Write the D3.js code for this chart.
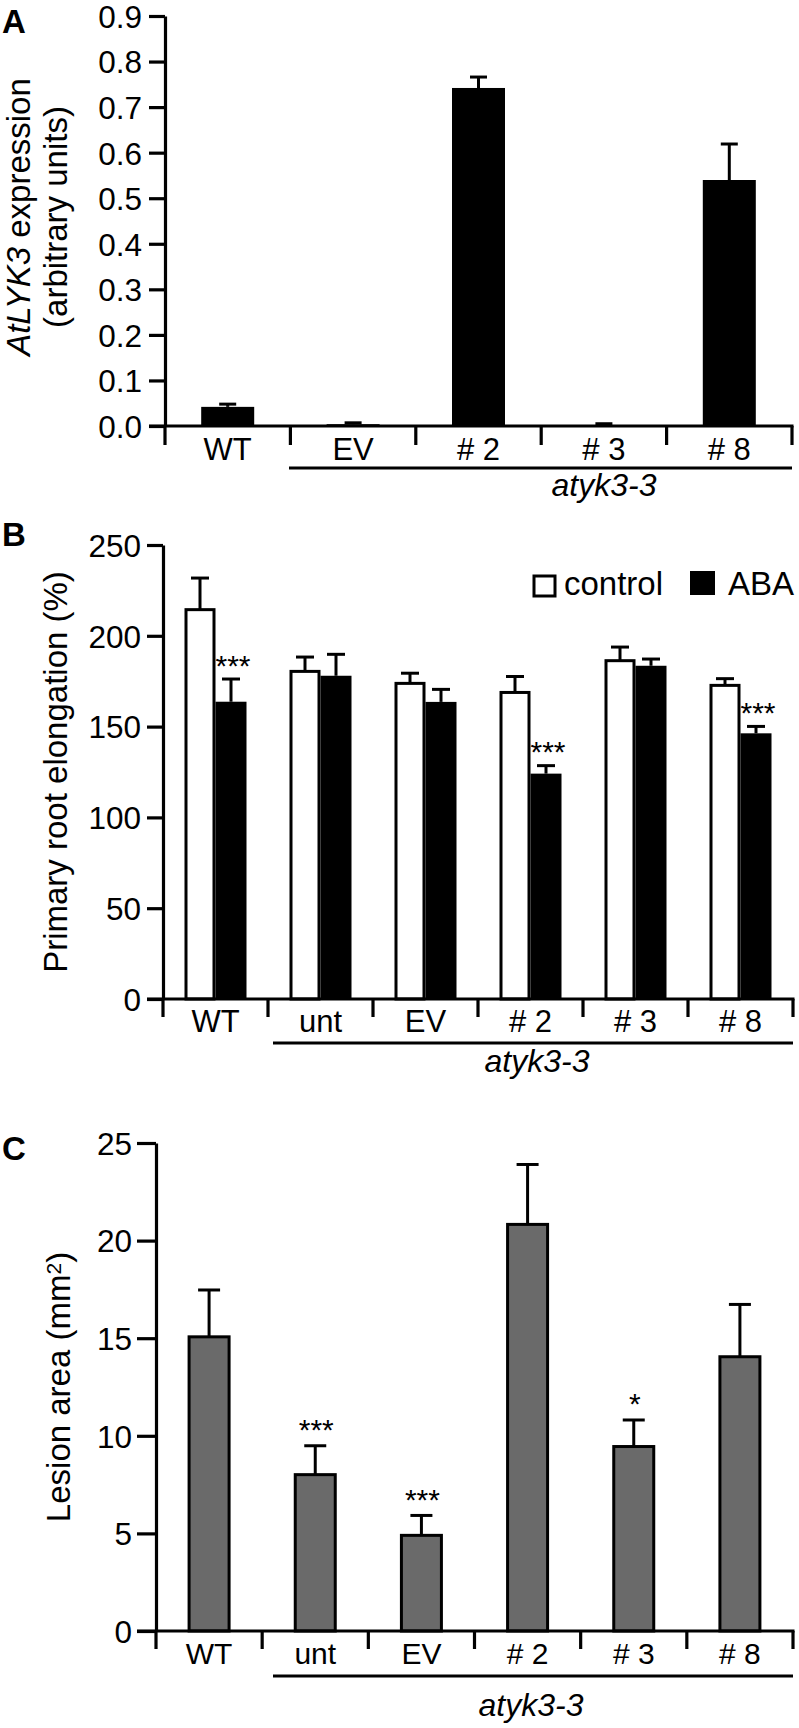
<!DOCTYPE html>
<html lang="en">
<head>
    <meta charset="UTF-8">
    <title>AtLYK3 expression, root elongation and lesion area</title>
    <script src="https://cdnjs.cloudflare.com/ajax/libs/d3/7.8.5/d3.min.js"></script>
    <style>
        body {
            margin: 0;
            padding: 0;
            background: #fff;
        }
        svg text {
            font-family: "Liberation Sans", Arial, Helvetica, sans-serif;
            fill: #000;
        }
        .axis path, .axis line {
            stroke: #000;
            stroke-width: 3.2px;
        }
        .axis text {
            font-size: 31.5px;
        }
    </style>
</head>
<body>
    <div id="chart"></div>

    <script>
        // ---- data ----
        // Panel A
        const catsA = ['WT', 'EV', '# 2', '# 3', '# 8'];
        const exprA = [0.042, 0.004, 0.742, 0.002, 0.540];
        const exprErrA = [0.006, 0.003, 0.024, 0.003, 0.079];
        const ticksA = [0, 0.1, 0.2, 0.3, 0.4, 0.5, 0.6, 0.7, 0.8, 0.9];

        // Panel B
        const catsB = ['WT', 'unt', 'EV', '# 2', '# 3', '# 8'];
        const controlB = [214.4, 180.4, 173.8, 168.8, 186.3, 172.7];
        const controlErrB = [17.4, 7.9, 5.6, 8.8, 7.5, 3.7];
        const abaB = [163.7, 178.0, 163.6, 124.1, 183.5, 146.3];
        const abaErrB = [12.5, 11.8, 6.9, 4.4, 3.7, 3.8];
        const starsB = ['***', '', '', '***', '', '***'];
        const seriesB = ['control', 'ABA'];
        const ticksB = [0, 50, 100, 150, 200, 250];

        // Panel C
        const catsC = ['WT', 'unt', 'EV', '# 2', '# 3', '# 8'];
        const lesionC = [15.07, 8.01, 4.90, 20.83, 9.45, 14.05];
        const lesionErrC = [2.40, 1.48, 1.02, 3.07, 1.36, 2.68];
        const starsC = ['', '***', '***', '', '*', ''];
        const ticksC = [0, 5, 10, 15, 20, 25];

        const groupLabel = 'atyk3-3';

        const width = 799;
        const height = 1728;

        const svg = d3.select('#chart')
            .append('svg')
            .attr('width', width)
            .attr('height', height);

        // shared pieces: y axis, x baseline, category boundaries, labels, bracket
        function drawFrame(g, cfg, x, y) {
            g.append('g')
                .attr('class', 'axis')
                .attr('transform', `translate(${cfg.axisX},0)`)
                .call(d3.axisLeft(y)
                    .tickValues(cfg.ticks)
                    .tickSize(cfg.axisX - cfg.tickLeft)
                    .tickSizeOuter(0)
                    .tickPadding(cfg.tickLeft - cfg.labelRight)
                    .tickFormat(cfg.format))
                .call(a => a.selectAll('text').attr('dy', '0.36em'));

            // x baseline
            g.append('line')
                .attr('x1', cfg.tickLeft).attr('x2', x.range()[1] + 1.5)
                .attr('y1', y(0)).attr('y2', y(0))
                .attr('stroke', '#000').attr('stroke-width', 3.2);

            // boundary ticks under the axis
            const bounds = x.domain().map(d => x(d)).concat([x.range()[1]]);
            g.selectAll('.bound')
                .data(bounds)
                .enter().append('line')
                .attr('x1', d => d).attr('x2', d => d)
                .attr('y1', y(0)).attr('y2', y(0) + cfg.tickDown)
                .attr('stroke', '#000').attr('stroke-width', 3.2);

            g.selectAll('.cat')
                .data(x.domain())
                .enter().append('text')
                .attr('x', d => x(d) + x.bandwidth() / 2)
                .attr('y', cfg.catY)
                .attr('text-anchor', 'middle')
                .style('font-size', cfg.catSize + 'px')
                .text(d => d);

            // mutant bracket
            g.append('line')
                .attr('x1', cfg.bracketX0).attr('x2', x.range()[1])
                .attr('y1', cfg.bracketY).attr('y2', cfg.bracketY)
                .attr('stroke', '#000').attr('stroke-width', 3);
            g.append('text')
                .attr('x', cfg.groupX).attr('y', cfg.groupY)
                .attr('text-anchor', 'middle')
                .style('font-size', '32px')
                .style('font-style', 'italic')
                .text(groupLabel);

            // panel letter
            g.append('text')
                .attr('x', 2).attr('y', cfg.letterY)
                .style('font-size', '33px')
                .style('font-weight', 'bold')
                .text(cfg.letter);
        }

        function errorBar(g, cx, yTop, yVal, capW) {
            g.append('line')
                .attr('x1', cx).attr('x2', cx)
                .attr('y1', yVal).attr('y2', yTop)
                .attr('stroke', '#000').attr('stroke-width', 3);
            g.append('line')
                .attr('x1', cx - capW / 2).attr('x2', cx + capW / 2)
                .attr('y1', yTop).attr('y2', yTop)
                .attr('stroke', '#000').attr('stroke-width', 3);
        }

        function stars(g, cx, yTop, s) {
            if (!s) return;
            g.append('text')
                .attr('x', cx + 2).attr('y', yTop + 4.5)
                .attr('text-anchor', 'middle')
                .style('font-size', '30px')
                .text(s);
        }

        // ---------- Panel A ----------
        (function () {
            const cfg = {
                letter: 'A', letterY: 33, axisX: 165, tickLeft: 149, labelRight: 142,
                ticks: ticksA, format: d3.format('.1f'), tickDown: 19,
                catY: 460, catSize: 31, bracketX0: 289, bracketY: 468,
                groupX: 604, groupY: 496
            };
            const g = svg.append('g');
            const x = d3.scaleBand().domain(catsA).range([165, 792]);
            const y = d3.scaleLinear().domain([0, 0.9]).range([426, 16]);
            const barW = 53;

            g.selectAll('.bar')
                .data(catsA)
                .enter().append('rect')
                .attr('x', d => x(d) + (x.bandwidth() - barW) / 2)
                .attr('width', barW)
                .attr('y', (d, i) => y(exprA[i]))
                .attr('height', (d, i) => y(0) - y(exprA[i]))
                .attr('fill', '#000');

            catsA.forEach((c, i) => {
                const cx = x(c) + x.bandwidth() / 2;
                errorBar(g, cx, y(exprA[i] + exprErrA[i]), y(exprA[i]), 17);
            });

            drawFrame(g, cfg, x, y);

            const t = g.append('text')
                .attr('transform', 'translate(30,217) rotate(-90)')
                .attr('text-anchor', 'middle')
                .style('font-size', '33px');
            t.append('tspan').style('font-style', 'italic').text('AtLYK3');
            t.append('tspan').text(' expression');
            g.append('text')
                .attr('transform', 'translate(67,217) rotate(-90)')
                .attr('text-anchor', 'middle')
                .style('font-size', '33px')
                .text('(arbitrary units)');
        })();

        // ---------- Panel B ----------
        (function () {
            const cfg = {
                letter: 'B', letterY: 546, axisX: 163, tickLeft: 147, labelRight: 141,
                ticks: ticksB, format: d3.format('d'), tickDown: 18,
                catY: 1032, catSize: 31, bracketX0: 273, bracketY: 1043,
                groupX: 537, groupY: 1072
            };
            const g = svg.append('g');
            const x = d3.scaleBand().domain(catsB).range([163, 793]);
            const y = d3.scaleLinear().domain([0, 250]).range([999, 545]);
            const pairW = 62;
            const xs = d3.scaleBand().domain(seriesB)
                .range([(x.bandwidth() - pairW) / 2, (x.bandwidth() + pairW) / 2]);

            const vals = { control: controlB, ABA: abaB };
            const errs = { control: controlErrB, ABA: abaErrB };

            seriesB.forEach(s => {
                g.selectAll('.bar-' + s)
                    .data(catsB)
                    .enter().append('rect')
                    .attr('x', d => x(d) + xs(s) + (s === 'control' ? 1.5 : 0))
                    .attr('width', xs.bandwidth() - (s === 'control' ? 3 : 0))
                    .attr('y', (d, i) => y(vals[s][i]))
                    .attr('height', (d, i) => y(0) - y(vals[s][i]))
                    .attr('fill', s === 'control' ? '#fff' : '#000')
                    .attr('stroke', s === 'control' ? '#000' : 'none')
                    .attr('stroke-width', 3);
            });

            catsB.forEach((c, i) => {
                seriesB.forEach(s => {
                    const cx = x(c) + xs(s) + xs.bandwidth() / 2;
                    const top = y(vals[s][i] + errs[s][i]);
                    errorBar(g, cx, top, y(vals[s][i]), 18);
                    if (s === 'ABA') stars(g, cx, top - 8, starsB[i]);
                });
            });

            drawFrame(g, cfg, x, y);

            g.append('text')
                .attr('transform', 'translate(67,772) rotate(-90)')
                .attr('text-anchor', 'middle')
                .style('font-size', '33px')
                .text('Primary root elongation (%)');

            // legend
            const lg = g.append('g');
            lg.append('rect').attr('x', 534).attr('y', 576).attr('width', 21).attr('height', 20)
                .attr('fill', '#fff').attr('stroke', '#000').attr('stroke-width', 3);
            lg.append('text').attr('x', 564).attr('y', 595).style('font-size', '33px').text('control');
            lg.append('rect').attr('x', 690).attr('y', 571).attr('width', 25).attr('height', 24)
                .attr('fill', '#000');
            lg.append('text').attr('x', 728).attr('y', 595).style('font-size', '33px').text('ABA');
        })();

        // ---------- Panel C ----------
        (function () {
            const cfg = {
                letter: 'C', letterY: 1160, axisX: 156, tickLeft: 137, labelRight: 132,
                ticks: ticksC, format: d3.format('d'), tickDown: 18,
                catY: 1664, catSize: 30, bracketX0: 273, bracketY: 1676,
                groupX: 531, groupY: 1716
            };
            const g = svg.append('g');
            const x = d3.scaleBand().domain(catsC).range([156, 793]);
            const y = d3.scaleLinear().domain([0, 25]).range([1631, 1143]);
            const barW = 40;

            g.selectAll('.bar')
                .data(catsC)
                .enter().append('rect')
                .attr('x', d => x(d) + (x.bandwidth() - barW) / 2)
                .attr('width', barW)
                .attr('y', (d, i) => y(lesionC[i]))
                .attr('height', (d, i) => y(0) - y(lesionC[i]))
                .attr('fill', '#6a6a6a')
                .attr('stroke', '#000')
                .attr('stroke-width', 3);

            catsC.forEach((c, i) => {
                const cx = x(c) + x.bandwidth() / 2;
                const top = y(lesionC[i] + lesionErrC[i]);
                errorBar(g, cx, top, y(lesionC[i]), 22);
                stars(g, cx - 1, top - 10, starsC[i]);
            });

            drawFrame(g, cfg, x, y);

            const t = g.append('text')
                .attr('transform', 'translate(70,1387) rotate(-90)')
                .attr('text-anchor', 'middle')
                .style('font-size', '33px');
            t.append('tspan').text('Lesion area (mm');
            t.append('tspan').attr('dy', '-0.45em').style('font-size', '21px').text('2');
            t.append('tspan').attr('dy', '0.3em').text(')');
        })();
    </script>
</body>
</html>
